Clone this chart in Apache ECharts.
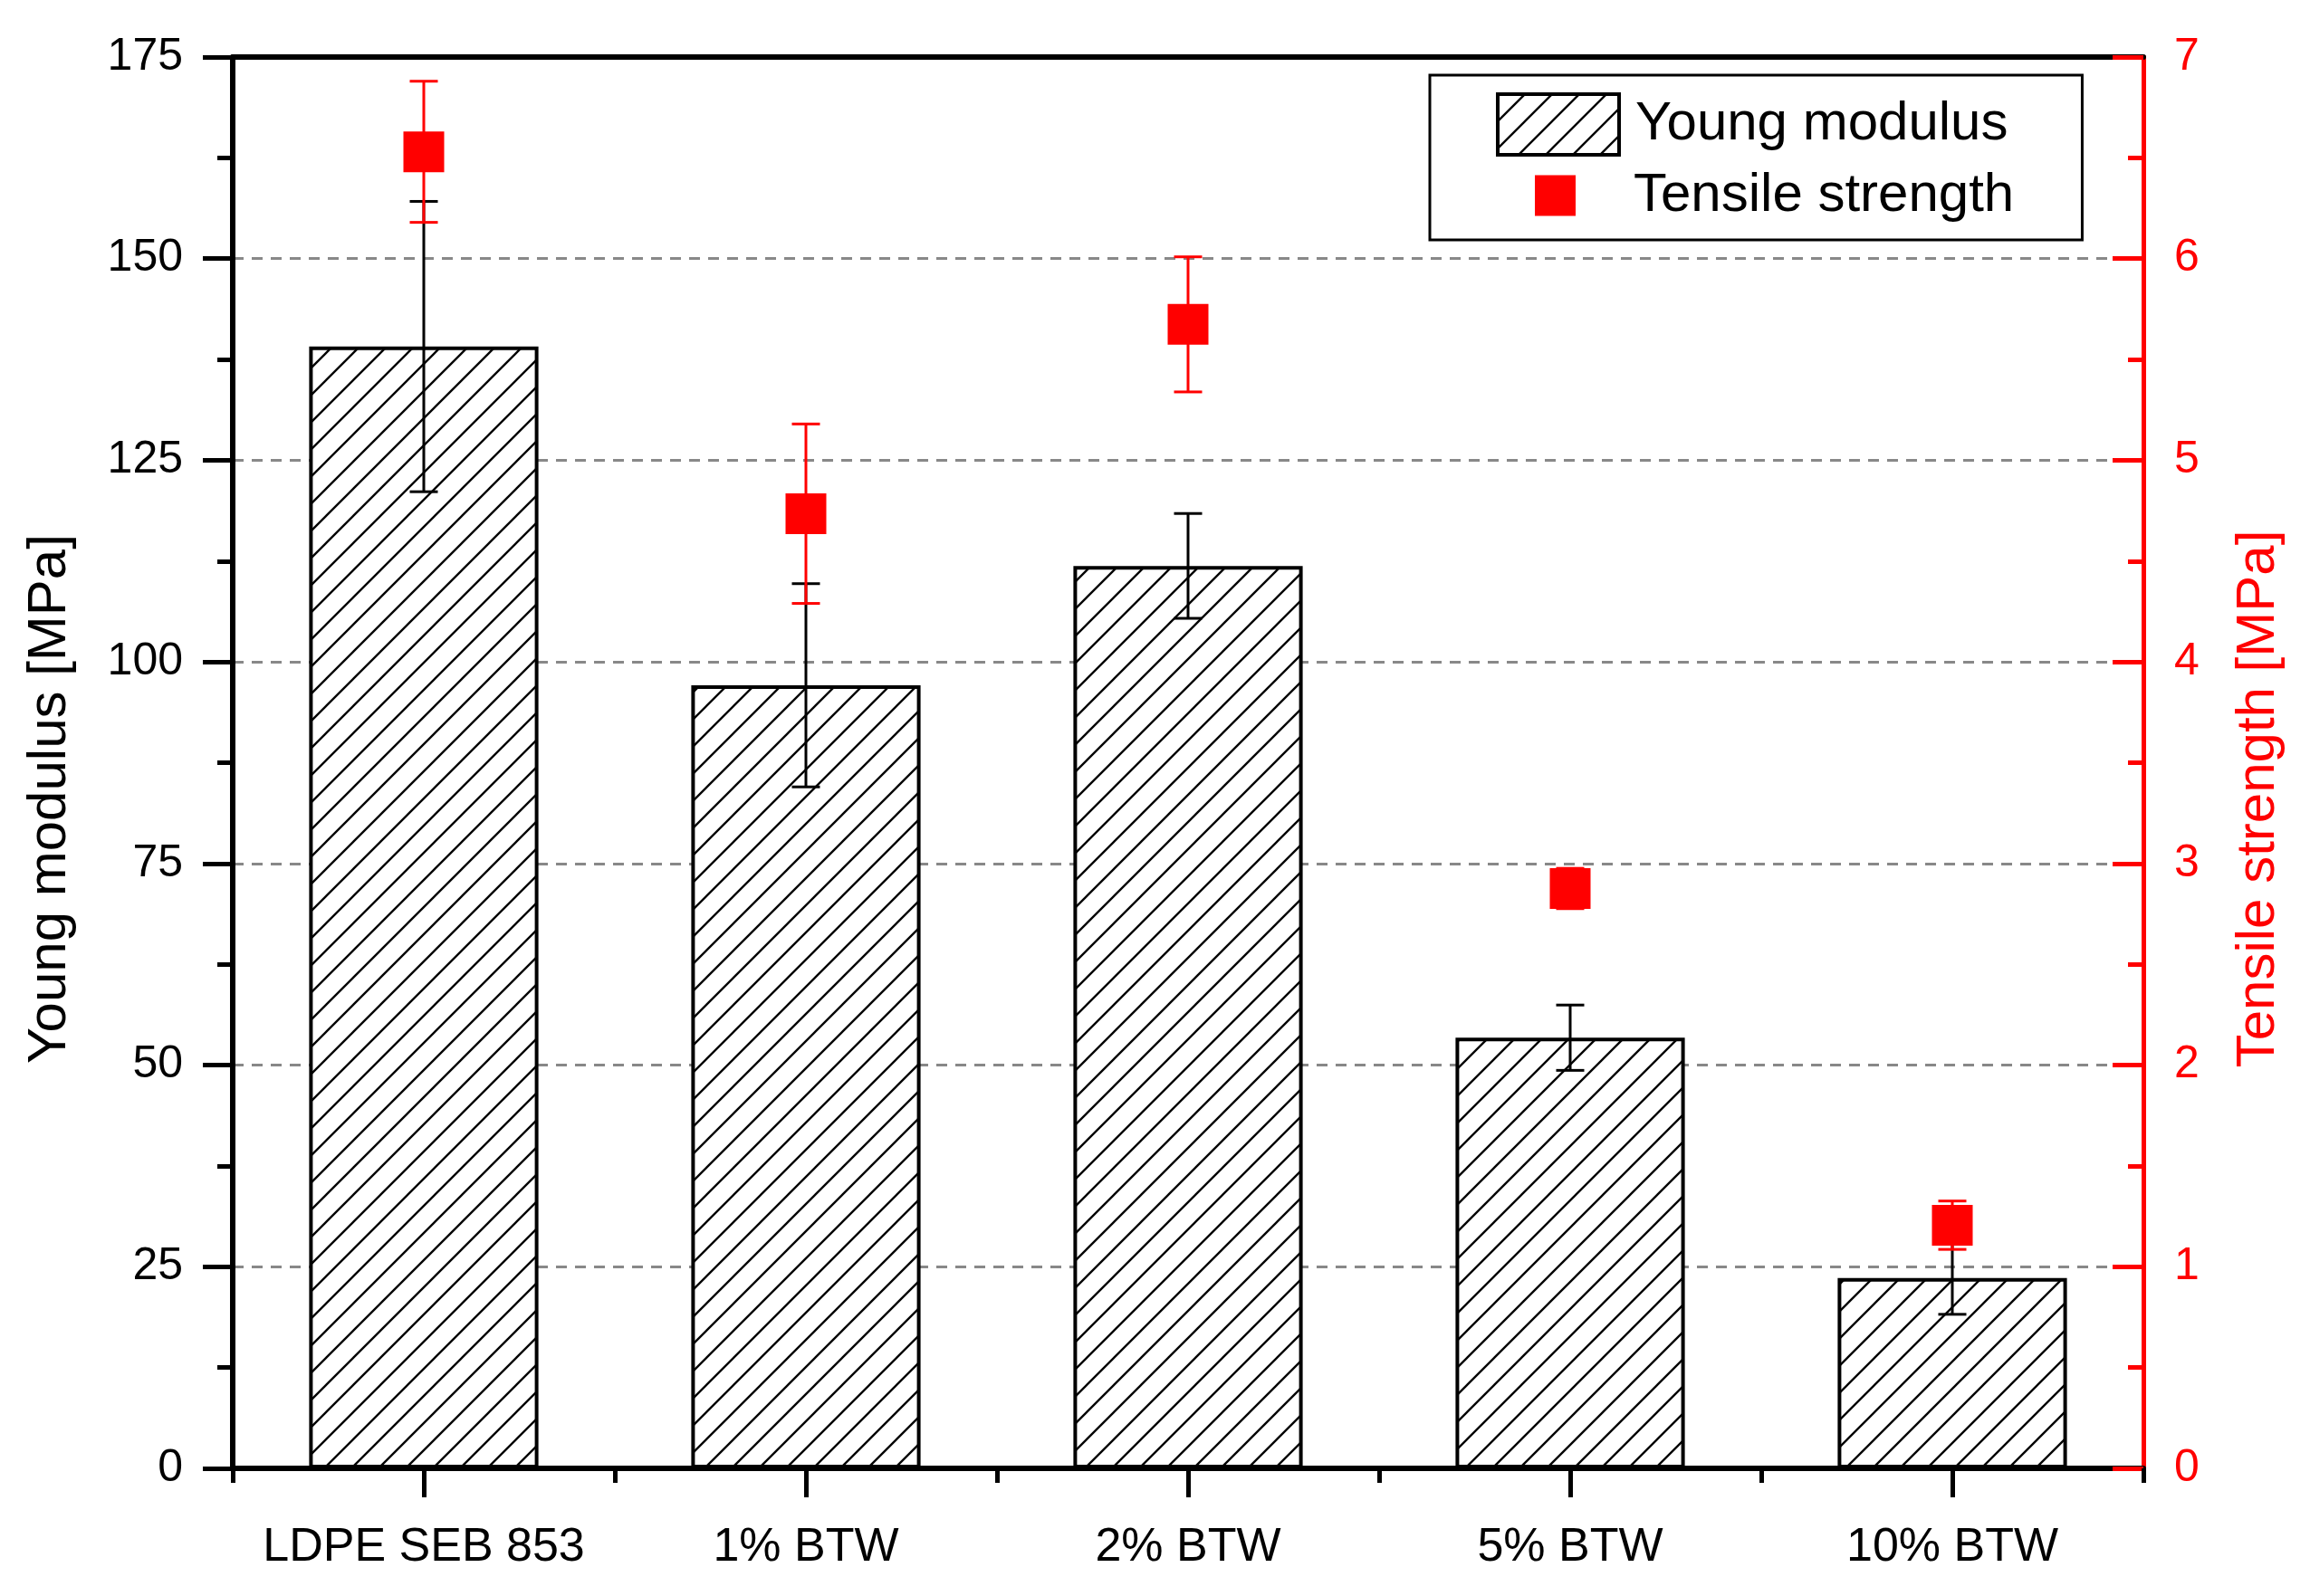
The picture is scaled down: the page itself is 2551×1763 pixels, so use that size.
<!DOCTYPE html>
<html>
<head>
<meta charset="utf-8">
<script src="https://cdn.jsdelivr.net/npm/echarts@6/dist/echarts.min.js"></script>
<style>html,body{margin:0;padding:0;background:#fff;}#chart{width:2551px;height:1763px;}</style>
</head>
<body>
<div id="chart"></div>
<script>
const categories = ['LDPE SEB 853', '1% BTW', '2% BTW', '5% BTW', '10% BTW'];
const youngModulus = [139.1, 97.1, 111.9, 53.4, 23.6];
const youngErr = [18.0, 12.6, 6.5, 4.05, 4.5];
const tensileStrength = [6.53, 4.735, 5.674, 2.876, 1.206];
const tensileErr = [0.35, 0.445, 0.335, 0.10, 0.12];
const leftTicks = {min: 0, max: 175, interval: 25};
const rightTicks = {min: 0, max: 7, interval: 1};

const FONT = "'Liberation Sans', Arial, sans-serif";

// hatch pattern tile
const tile = document.createElement('canvas');
tile.width = 30; tile.height = 30;
(function(){
  const c = tile.getContext('2d');
  c.fillStyle = '#fff'; c.fillRect(0,0,30,30);
  c.strokeStyle = '#000'; c.lineWidth = 2.4;
  c.beginPath();
  c.moveTo(-3, 33); c.lineTo(33, -3);
  c.moveTo(-3, 3); c.lineTo(3, -3);
  c.moveTo(27, 33); c.lineTo(33, 27);
  c.stroke();
})();
const hatch = {image: tile, repeat: 'repeat'};

const youngErrData = categories.map((c, i) => [i, youngModulus[i] - youngErr[i], youngModulus[i] + youngErr[i]]);
const tensileErrData = categories.map((c, i) => [i, tensileStrength[i] - tensileErr[i], tensileStrength[i] + tensileErr[i]]);

function errRender(color) {
  return function (params, api) {
    const x = api.value(0), lo = api.value(1), hi = api.value(2);
    const pHi = api.coord([x, hi]);
    const pLo = api.coord([x, lo]);
    const hw = 15.5;
    const style = {stroke: color, lineWidth: 3, fill: null};
    return {type: 'group', children: [
      {type: 'line', shape: {x1: pHi[0], y1: pHi[1], x2: pLo[0], y2: pLo[1]}, style: style},
      {type: 'line', shape: {x1: pHi[0] - hw, y1: pHi[1], x2: pHi[0] + hw, y2: pHi[1]}, style: style},
      {type: 'line', shape: {x1: pLo[0] - hw, y1: pLo[1], x2: pLo[0] + hw, y2: pLo[1]}, style: style}
    ]};
  };
}

const chart = echarts.init(document.getElementById('chart'), null, {renderer: 'canvas'});
chart.setOption({
  animation: false,
  backgroundColor: '#fff',
  textStyle: {fontFamily: FONT},
  grid: {left: 257, right: 184, top: 63, bottom: 141, containLabel: false},
  legend: [
    {
      data: ['Young modulus'],
      left: 1579, top: 83,
      padding: [19, 82, 92, 73],
      borderColor: '#000', borderWidth: 3,
      itemWidth: 134, itemHeight: 67,
      icon: 'rect',
      selectedMode: false,
      itemStyle: {borderColor: '#000', borderWidth: 4},
      textStyle: {fontSize: 60, color: '#000', fontFamily: FONT, lineHeight: 67, padding: [0, 0, 0, 13]}
    },
    {
      data: ['Tensile strength'],
      left: 1695, top: 186,
      padding: 0,
      itemWidth: 45, itemHeight: 45,
      icon: 'rect',
      selectedMode: false,
      textStyle: {fontSize: 60, color: '#000', fontFamily: FONT, lineHeight: 45, padding: [0, 0, 0, 59]}
    }
  ],
  xAxis: [
    {
      type: 'category', data: categories, position: 'bottom',
      axisLine: {show: true, lineStyle: {color: '#000', width: 6}},
      axisTick: {show: true, alignWithLabel: true, length: 32, lineStyle: {color: '#000', width: 5}},
      axisLabel: {interval: 0, fontSize: 52, color: '#000', margin: 62, fontFamily: FONT},
      splitLine: {show: false}
    },
    {
      type: 'category', data: categories, position: 'bottom',
      axisLine: {show: false},
      axisTick: {show: true, interval: 0, alignWithLabel: false, length: 16, lineStyle: {color: '#000', width: 5}},
      axisLabel: {show: false},
      splitLine: {show: false}
    },
    {
      type: 'category', data: categories, position: 'top',
      axisLine: {show: true, lineStyle: {color: '#000', width: 6}},
      axisTick: {show: false},
      axisLabel: {show: false},
      splitLine: {show: false}
    }
  ],
  yAxis: [
    {
      type: 'value', position: 'left',
      min: leftTicks.min, max: leftTicks.max, interval: leftTicks.interval,
      name: 'Young modulus [MPa]', nameLocation: 'middle', nameGap: 172, nameRotate: 90,
      nameTextStyle: {fontSize: 60, color: '#000', fontFamily: FONT, padding: [0, 80, 0, 0]},
      axisLine: {show: true, lineStyle: {color: '#000', width: 6}},
      axisTick: {show: true, inside: false, length: 33, lineStyle: {color: '#000', width: 5}},
      minorTick: {show: true, splitNumber: 2, length: 17, lineStyle: {color: '#000', width: 5}},
      axisLabel: {fontSize: 50, color: '#000', margin: 55, fontFamily: FONT},
      splitLine: {show: true, showMinLine: false, showMaxLine: false,
        lineStyle: {color: '#888888', width: 3, type: [12, 9]}}
    },
    {
      type: 'value', position: 'right',
      min: rightTicks.min, max: rightTicks.max, interval: rightTicks.interval,
      name: 'Tensile strength [MPa]', nameLocation: 'middle', nameGap: 97, nameRotate: 90,
      nameTextStyle: {fontSize: 60, color: '#ff0000', fontFamily: FONT, padding: [0, 80, 0, 0]},
      axisLine: {show: true, lineStyle: {color: '#ff0000', width: 5}},
      axisTick: {show: true, inside: true, length: 34, lineStyle: {color: '#ff0000', width: 5}},
      minorTick: {show: true, splitNumber: 2, length: 17, lineStyle: {color: '#ff0000', width: 5}},
      axisLabel: {fontSize: 50, color: '#ff0000', margin: 34, fontFamily: FONT},
      splitLine: {show: false}
    }
  ],
  series: [
    {
      name: 'Young modulus', type: 'bar', xAxisIndex: 0, yAxisIndex: 0,
      data: youngModulus, barWidth: '60%', z: 2,
      itemStyle: {color: hatch, borderColor: '#000', borderWidth: 4}
    },
    {
      type: 'custom', xAxisIndex: 0, yAxisIndex: 0, z: 3,
      data: youngErrData, encode: {x: 0, y: [1, 2]},
      renderItem: errRender('#000')
    },
    {
      type: 'custom', xAxisIndex: 0, yAxisIndex: 1, z: 4,
      data: tensileErrData, encode: {x: 0, y: [1, 2]},
      renderItem: errRender('#ff0000')
    },
    {
      name: 'Tensile strength', type: 'scatter', xAxisIndex: 0, yAxisIndex: 1,
      data: tensileStrength, symbol: 'rect', symbolSize: 45, z: 5,
      itemStyle: {color: '#ff0000', opacity: 1}
    }
  ]
});
</script>
</body>
</html>
